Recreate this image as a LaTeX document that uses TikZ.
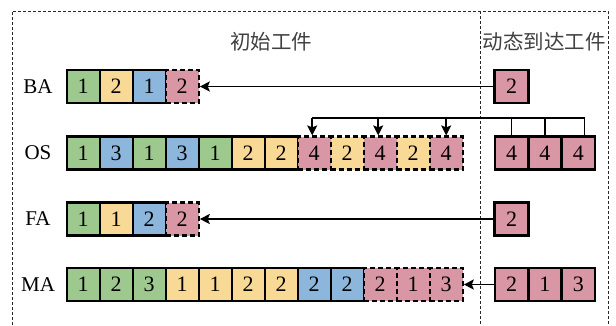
\documentclass[tikz,border=0pt]{standalone}
\usepackage{fontspec}
\setmainfont{Liberation Serif}
\newfontfamily\cjk{Noto Sans CJK SC}
\usetikzlibrary{arrows.meta,calc}
\definecolor{cgreen}{RGB}{157,201,142}
\definecolor{cyellow}{RGB}{248,217,150}
\definecolor{cblue}{RGB}{140,182,220}
\definecolor{cpink}{RGB}{217,150,164}
\begin{document}
\begin{tikzpicture}[x=1pt,y=-1pt,
  cell/.style={draw=black,line width=2.2pt,minimum width=33pt,minimum height=33pt,inner sep=0pt,font=\fontsize{22}{22}\selectfont},
  cg/.style={cell,fill=cgreen},
  cy/.style={cell,fill=cyellow},
  cb/.style={cell,fill=cblue},
  cp/.style={cell,fill=cpink},
  cpd/.style={cell,fill=cpink,dash pattern=on 5pt off 3pt},
  cyd/.style={cell,fill=cyellow,dash pattern=on 5pt off 3pt},
  rp/.style={cell,fill=cpink,line width=2.8pt,minimum width=33.3pt},
  rowlabel/.style={font=\fontsize{21}{21}\selectfont},
  title/.style={font=\cjk\fontsize{20.5}{20.5}\selectfont,text=black!75},
  frame/.style={line width=1pt,dash pattern=on 3pt off 2pt,black!85},
  conn/.style={line width=1.5pt},
  arr/.style={conn,-{Stealth[length=10pt,width=10pt,inset=2pt]}}]
\useasboundingbox (0,0) rectangle (616,325);
% frame
\draw[frame] (12,325) -- (12,11) -- (608,11) -- (608,325);
\draw[frame] (480,11) -- (480,325);
\node[title] (t1) at (271,42) {初始工件};
\node[title] (t2) at (544,42) {动态到达工件};
% row labels
\node[rowlabel] (lba) at (38,87) {BA};
\node[rowlabel] (los) at (38,153) {OS};
\node[rowlabel] (lfa) at (38,219) {FA};
\node[rowlabel] (lma) at (38,285) {MA};
% BA
\foreach \s/\n [count=\i] in {cg/1,cy/2,cb/1,cpd/2}
  \node[\s] (ba\i) at ({66.7+33*(\i-0.5)},86.5) {\n};
\node[rp] (bar1) at (511.5,86.5) {2};
% OS
\foreach \s/\n [count=\i] in {cg/1,cb/3,cg/1,cb/3,cg/1,cy/2,cy/2,cpd/4,cyd/2,cpd/4,cyd/2,cpd/4}
  \node[\s] (os\i) at ({66.7+33*(\i-0.5)},153) {\n};
\foreach \n [count=\i] in {4,4,4}
  \node[rp] (osr\i) at ({495+33.3*(\i-0.5)},153) {\n};
% FA
\foreach \s/\n [count=\i] in {cg/1,cy/1,cb/2,cpd/2}
  \node[\s] (fa\i) at ({66.7+33*(\i-0.5)},219) {\n};
\node[rp] (far1) at (511.5,219) {2};
% MA
\foreach \s/\n [count=\i] in {cg/1,cg/2,cg/3,cy/1,cy/1,cy/2,cy/2,cb/2,cb/2,cpd/2,cpd/1,cpd/3}
  \node[\s] (ma\i) at ({66.7+33*(\i-0.5)},284.5) {\n};
\foreach \n [count=\i] in {2,1,3}
  \node[rp] (mar\i) at ({495+33.3*(\i-0.5)},284.5) {\n};
% connectors
\draw[arr] (bar1.west) -- (ba4.east);
\draw[arr] (far1.west) -- (fa4.east);
\draw[arr] (mar1.west) -- (ma12.east);
\coordinate (top) at (0,118);
\draw[conn] ([xshift=6pt]osr3.north) -- ([xshift=6pt]osr3.north |- top) -- ([xshift=-2pt]os8.north |- top);
\draw[conn] (osr1.north) -- (osr1.north |- top);
\draw[conn] (osr2.north) -- (osr2.north |- top);
\draw[arr] ([xshift=-2pt]os8.north |- top) -- ([xshift=-2pt]os8.north);
\draw[arr] ([xshift=-2pt]os10.north |- top) -- ([xshift=-2pt]os10.north);
\draw[arr] (os12.north |- top) -- (os12.north);
\end{tikzpicture}
\end{document}
